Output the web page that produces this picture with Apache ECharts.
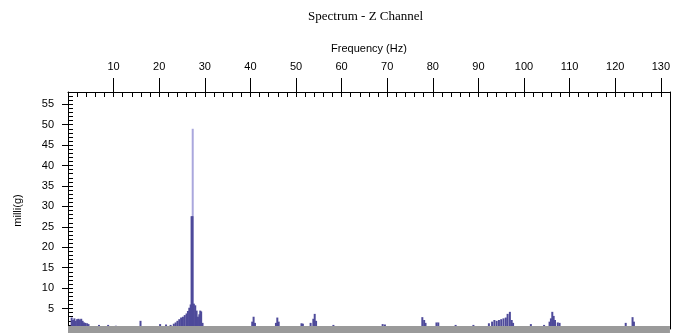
<!DOCTYPE html>
<html>
<head>
<meta charset="utf-8">
<script src="https://cdn.jsdelivr.net/npm/echarts/dist/echarts.min.js"></script>
<style>html,body{margin:0;padding:0;background:#fff;}#c{width:673px;height:334px;}</style>
</head>
<body>
<div id="c"></div>
<script>
// Tick labels
const xTickLabels = [10, 20, 30, 40, 50, 60, 70, 80, 90, 100, 110, 120, 130];
const yTickLabels = [5, 10, 15, 20, 25, 30, 35, 40, 45, 50, 55];

// Spectrum bins (Hz) and amplitudes (milli-g)
const freqHz = [
  0.8, 1.1, 1.4, 1.7, 2.0, 2.3, 2.6, 2.9, 3.2, 3.5, 3.8, 4.2, 4.5,
  6.8, 8.8, 10.5, 15.9, 20.2, 21.5, 22.5,
  23.2, 23.6, 24.0, 24.4, 24.8, 25.2, 25.6, 26.0, 26.3, 26.6, 26.9, 27.1, 27.3, 27.6, 27.9, 28.2, 28.5, 28.8, 29.0, 29.2, 29.5,
  40.4, 40.7, 41.0,
  45.6, 45.9, 46.2,
  51.2, 51.5,
  53.2, 53.8, 54.1, 54.4,
  58.2, 69.0, 69.5,
  77.7, 78.1, 78.4,
  80.8, 81.2, 85.0, 88.9,
  92.3, 93.0, 93.5, 94.0, 94.5, 95.0, 95.5, 96.0, 96.4, 96.9, 97.3, 97.6,
  101.5, 104.4,
  105.6, 105.9, 106.2, 106.5, 106.8, 107.4, 107.8,
  122.3, 123.8, 124.1
];
const ampMilliG = [
  2.8, 2.2, 2.6, 2.0, 2.4, 2.5, 2.3, 2.5, 2.0, 1.6, 1.5, 1.4, 1.2,
  1.0, 1.0, 0.8, 2.0, 1.2, 1.1, 1.0,
  1.3, 1.6, 2.0, 2.4, 2.8, 3.0, 3.4, 3.8, 4.4, 5.2, 6.0, 27.6, 27.6, 6.2, 5.8, 4.5, 3.0, 3.6, 4.5, 4.3, 1.5,
  1.8, 3.0, 1.5,
  1.5, 2.8, 1.8,
  1.4, 1.3,
  1.5, 2.5, 3.7, 2.0,
  1.0, 1.2, 1.1,
  2.9, 2.2, 1.5,
  1.6, 1.6, 1.0, 1.0,
  1.4, 1.8, 2.2, 2.0, 2.2, 2.4, 2.6, 2.8, 3.7, 4.2, 2.2, 1.5,
  1.2, 1.0,
  1.8, 2.6, 4.2, 3.2, 2.2, 1.6, 1.5,
  1.5, 2.9, 1.8
];
// The narrow main spike
const spikeHz = [27.35];
const spikeAmp = [49.0];

const FONT = 'Liberation Sans';
const chart = echarts.init(document.getElementById('c'));
chart.setOption({
  animation: false,
  backgroundColor: '#fff',
  title: {
    text: 'Spectrum - Z Channel',
    left: 303, top: 5,
    textStyle: { fontFamily: 'Liberation Serif', fontSize: 13, fontWeight: 'normal', color: '#000' }
  },
  grid: { left: 68, right: 3, top: 92, bottom: 5, containLabel: false },
  xAxis: [
    {
      type: 'value', position: 'top', min: 0, max: 132, interval: 10,
      name: 'Frequency (Hz)', nameLocation: 'middle', nameGap: 38,
      nameTextStyle: { fontFamily: FONT, fontSize: 11, color: '#000' },
      axisLine: { show: true, onZero: false, lineStyle: { color: '#000', width: 1 } },
      axisTick: { show: true, inside: false, length: 14, customValues: xTickLabels, lineStyle: { color: '#000' } },
      axisLabel: { show: true, margin: 20, fontFamily: FONT, fontSize: 11, color: '#000', customValues: xTickLabels },
      splitLine: { show: false }
    },
    {
      type: 'value', position: 'top', min: 0, max: 132, interval: 2,
      axisLine: { show: false, onZero: false },
      axisTick: { show: true, inside: true, length: 5, lineStyle: { color: '#000' } },
      axisLabel: { show: false }, splitLine: { show: false }
    },
    {
      type: 'value', position: 'bottom', min: 0, max: 132, z: 5,
      axisLine: { show: true, onZero: false, lineStyle: { color: '#9a9a9a', width: 7, cap: 'butt' } },
      axisTick: { show: false }, axisLabel: { show: false }, splitLine: { show: false }
    }
  ],
  yAxis: [
    {
      type: 'value', position: 'left', min: 0, max: 58, interval: 5,
      name: 'milli(g)', nameLocation: 'middle', nameGap: 45,
      nameTextStyle: { fontFamily: FONT, fontSize: 11, color: '#000' },
      axisLine: { show: true, onZero: false, lineStyle: { color: '#000', width: 1 } },
      axisTick: { show: true, inside: false, length: 6, customValues: yTickLabels, lineStyle: { color: '#000' } },
      axisLabel: { show: true, margin: 14, fontFamily: FONT, fontSize: 11, color: '#000', customValues: yTickLabels },
      splitLine: { show: false }
    },
    {
      type: 'value', position: 'left', min: 0, max: 58, interval: 1,
      axisLine: { show: false, onZero: false },
      axisTick: { show: true, inside: true, length: 5, lineStyle: { color: '#000' } },
      axisLabel: { show: false }, splitLine: { show: false }
    },
    {
      type: 'value', position: 'right', min: 0, max: 58,
      axisLine: { show: true, onZero: false, lineStyle: { color: '#000', width: 1 } },
      axisTick: { show: false }, axisLabel: { show: false }, splitLine: { show: false }
    }
  ],
  series: [
    {
      type: 'bar', xAxisIndex: 0, yAxisIndex: 0, barWidth: 2, barGap: '-100%', z: 2,
      itemStyle: { color: '#aaa7dd' },
      data: spikeHz.map((f, i) => [f, spikeAmp[i]])
    },
    {
      type: 'bar', xAxisIndex: 0, yAxisIndex: 0, barWidth: 2, barGap: '-100%', z: 3,
      itemStyle: { color: '#4e4a9a' },
      data: freqHz.map((f, i) => [f, ampMilliG[i]])
    }
  ]
});
</script>
</body>
</html>
